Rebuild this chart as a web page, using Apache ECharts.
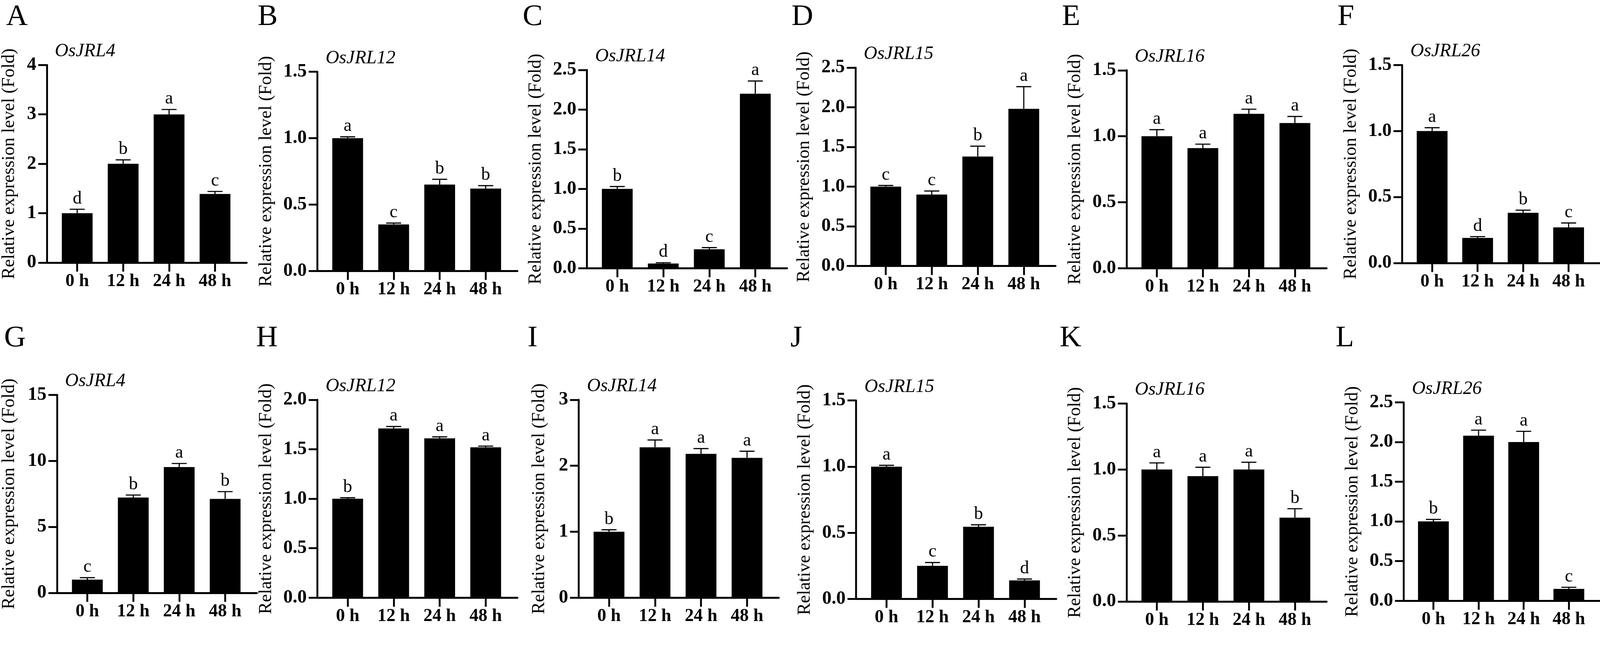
<!DOCTYPE html>
<html>
<head>
<meta charset="utf-8">
<script src="https://cdn.jsdelivr.net/npm/echarts@6/dist/echarts.min.js"></script>
<style>
    html, body { margin: 0; padding: 0; background: #fff; overflow: hidden; }
    #main { width: 100vw; height: 100vh; }
</style>
</head>
<body>
<div id="main"></div>
<script>
// 时间点 / 面板
var timePoints = ['0 h', '12 h', '24 h', '48 h'];
var panelLetters = ['A', 'B', 'C', 'D', 'E', 'F', 'G', 'H', 'I', 'J', 'K', 'L'];
var geneNames = ['OsJRL4', 'OsJRL12', 'OsJRL14', 'OsJRL15', 'OsJRL16', 'OsJRL26',
    'OsJRL4', 'OsJRL12', 'OsJRL14', 'OsJRL15', 'OsJRL16', 'OsJRL26'];

// y轴刻度
var yMax = [4, 1.5, 2.5, 2.5, 1.5, 1.5, 15, 2, 3, 1.5, 1.5, 2.5];
var yStep = [1, 0.5, 0.5, 0.5, 0.5, 0.5, 5, 0.5, 1, 0.5, 0.5, 0.5];

// 均值, 误差, 显著性字母
var meanA = [1.0, 2.0, 3.0, 1.39], errA = [0.08, 0.08, 0.10, 0.05], sigA = ['d', 'b', 'a', 'c'];
var meanB = [1.0, 0.35, 0.65, 0.62], errB = [0.01, 0.01, 0.04, 0.022], sigB = ['a', 'c', 'b', 'b'];
var meanC = [1.0, 0.06, 0.24, 2.2], errC = [0.03, 0.01, 0.02, 0.16], sigC = ['b', 'd', 'c', 'a'];
var meanD = [1.0, 0.9, 1.38, 1.98], errD = [0.015, 0.045, 0.13, 0.28], sigD = ['c', 'c', 'b', 'a'];
var meanE = [1.0, 0.91, 1.17, 1.10], errE = [0.05, 0.03, 0.035, 0.05], sigE = ['a', 'a', 'a', 'a'];
var meanF = [1.0, 0.19, 0.38, 0.27], errF = [0.025, 0.01, 0.02, 0.033], sigF = ['a', 'd', 'b', 'c'];
var meanG = [1.0, 7.22, 9.53, 7.12], errG = [0.15, 0.19, 0.27, 0.55], sigG = ['c', 'b', 'a', 'b'];
var meanH = [1.0, 1.71, 1.61, 1.52], errH = [0.01, 0.02, 0.015, 0.012], sigH = ['b', 'a', 'a', 'a'];
var meanI = [1.0, 2.28, 2.18, 2.12], errI = [0.03, 0.11, 0.08, 0.10], sigI = ['b', 'a', 'a', 'a'];
var meanJ = [1.0, 0.25, 0.545, 0.14], errJ = [0.01, 0.025, 0.015, 0.01], sigJ = ['a', 'c', 'b', 'd'];
var meanK = [1.0, 0.95, 1.0, 0.635], errK = [0.05, 0.067, 0.055, 0.068], sigK = ['a', 'a', 'a', 'b'];
var meanL = [1.0, 2.08, 2.0, 0.15], errL = [0.025, 0.07, 0.135, 0.02], sigL = ['b', 'a', 'a', 'c'];

var means = [meanA, meanB, meanC, meanD, meanE, meanF, meanG, meanH, meanI, meanJ, meanK, meanL];
var errs = [errA, errB, errC, errD, errE, errF, errG, errH, errI, errJ, errK, errL];
var sigs = [sigA, sigB, sigC, sigD, sigE, sigF, sigG, sigH, sigI, sigJ, sigK, sigL];

// 布局 (按4261x1681设计): [y轴x, 顶部y, 零线y]
var boxes = [
    [124, 173, 699], [845, 191, 721], [1563, 186, 714], [2278, 180, 708], [3000, 187, 714], [3734, 173, 700],
    [151, 1051, 1578], [845, 1064, 1591], [1541, 1064, 1591], [2280, 1066, 1594], [3000, 1074, 1601], [3738, 1071, 1599]
];
var letterX = [16, 686, 1392, 2108, 2828, 3562, 11, 682, 1405, 2105, 2822, 3557];
var nameGaps = [76, 112, 112, 112, 112, 112, 103, 112, 81, 112, 112, 112];

var serif = '"Liberation Serif", "Times New Roman", serif';

// 视口可能与设计尺寸不同, 按比例缩放
var S = Math.min(window.innerWidth / 4261, window.innerHeight / 1681);
function px(v) { return v * S; }

var myChart = echarts.init(document.getElementById('main'));

function errRender(i) {
    return function (params, api) {
        var k = params.dataIndex;
        var x = api.value(0);
        var p0 = api.coord([x, means[i][k]]);
        var p1 = api.coord([x, means[i][k] + errs[i][k]]);
        var cap = px(20);
        return {
            type: 'group',
            children: [
                {type: 'line', shape: {x1: p0[0], y1: p0[1], x2: p1[0], y2: p1[1]}, style: {stroke: '#000', lineWidth: px(3)}},
                {type: 'line', shape: {x1: p1[0] - cap, y1: p1[1], x2: p1[0] + cap, y2: p1[1]}, style: {stroke: '#000', lineWidth: px(3)}},
                {
                    type: 'text',
                    style: {
                        text: sigs[i][k], x: p1[0], y: p1[1] - px(4),
                        align: 'center', verticalAlign: 'bottom',
                        fontFamily: serif, fontSize: px(48), fill: '#000'
                    }
                }
            ]
        };
    };
}

var grids = [], xAxes = [], yAxes = [], series = [], graphics = [];

for (var i = 0; i < 12; i++) {
    var b = boxes[i];
    grids.push({left: px(b[0]), top: px(b[1]), width: px(533), height: px(b[2] - b[1])});

    xAxes.push({
        type: 'value', gridIndex: i, min: -0.66, max: 3.69,
        splitLine: {show: false},
        axisLine: {show: true, onZero: false, lineStyle: {color: '#000', width: px(5)}},
        axisTick: {show: true, customValues: [0, 1, 2, 3], length: px(24), lineStyle: {color: '#000', width: px(5)}},
        axisLabel: {
            customValues: [0, 1, 2, 3], margin: px(26),
            formatter: function (v) { return timePoints[Math.round(v)]; },
            fontFamily: serif, fontWeight: 'bold', fontSize: px(48), color: '#000'
        }
    });

    (function (step) {
        yAxes.push({
            type: 'value', gridIndex: i, min: 0, max: yMax[i], interval: step,
            name: 'Relative expression level (Fold)', nameLocation: 'middle', nameRotate: 90,
            nameGap: px(nameGaps[i]),
            nameTextStyle: {fontFamily: serif, fontSize: px(48), color: '#000'},
            splitLine: {show: false},
            axisLine: {show: true, onZero: false, lineStyle: {color: '#000', width: px(5)}},
            axisTick: {show: true, length: px(23), lineStyle: {color: '#000', width: px(5)}},
            axisLabel: {
                margin: px(28),
                formatter: function (v) { return step < 1 ? v.toFixed(1) : String(v); },
                fontFamily: serif, fontWeight: 'bold', fontSize: px(50), color: '#000'
            }
        });
    })(yStep[i]);

    var barData = [], errData = [];
    for (var k = 0; k < 4; k++) {
        barData.push([k, means[i][k]]);
        errData.push([k, means[i][k] + errs[i][k]]);
    }
    series.push({
        type: 'bar', xAxisIndex: i, yAxisIndex: i, barWidth: px(82),
        itemStyle: {color: '#000'}, data: barData
    });
    series.push({
        type: 'custom', xAxisIndex: i, yAxisIndex: i, clip: false, z: 5,
        renderItem: errRender(i), data: errData
    });

    graphics.push({
        type: 'text', x: px(letterX[i]), y: px(i < 6 ? 46 : 901),
        style: {text: panelLetters[i], fontFamily: serif, fontSize: px(80), fill: '#000', verticalAlign: 'middle'}
    });
    graphics.push({
        type: 'text', x: px(b[0] + 22), y: px(b[1] - 36),
        style: {text: geneNames[i], fontFamily: serif, fontStyle: 'italic', fontSize: px(50), fill: '#000', verticalAlign: 'middle'}
    });
}

var option = {
    animation: false,
    backgroundColor: '#fff',
    grid: grids,
    xAxis: xAxes,
    yAxis: yAxes,
    series: series,
    graphic: graphics
};
myChart.setOption(option);
</script>
</body>
</html>
